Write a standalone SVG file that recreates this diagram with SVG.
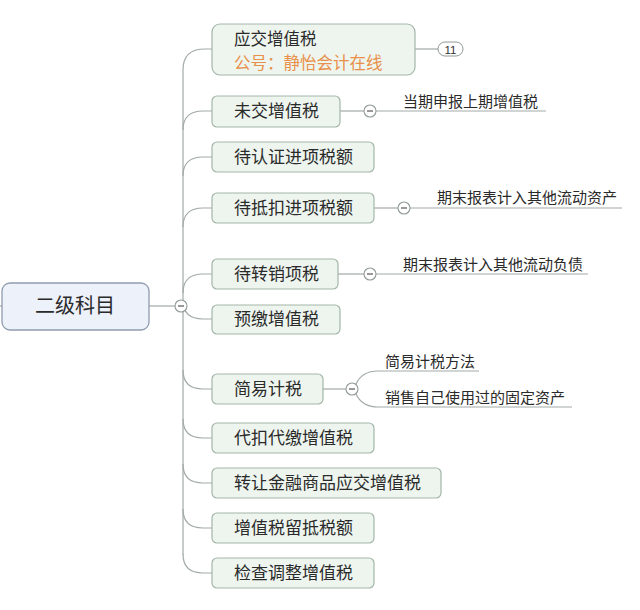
<svg xmlns="http://www.w3.org/2000/svg" width="640" height="610" viewBox="0 0 640 610">
<style>
.box{fill:#eef5ef;stroke:#a3b6a8;stroke-width:1.2}
.root{fill:#edf1f9;stroke:#8e9cae;stroke-width:1.3}
.t{font-family:"Noto Sans CJK SC","Noto Sans",sans-serif;font-size:17px;fill:#2a2a2a}
.lb{font-family:"Noto Sans CJK SC","Noto Sans",sans-serif;font-size:15px;fill:#2a2a2a}
.or{fill:#e8904a}
.ln{fill:none;stroke:#a2aaa6;stroke-width:1.2}
.tog{fill:#ffffff;stroke:#8f9a95;stroke-width:1.1}
.min{stroke:#555;stroke-width:1.2}
</style>
<rect width="640" height="610" fill="#ffffff"/>
<g id="connectors">
  <path class="ln" d="M0,306 H3"/>
  <path class="ln" d="M149,306 H175"/>
  <path class="ln" d="M183,70 V555"/>
  <path class="ln" d="M183,70 Q183,49 205,49 H212"/>
  <path class="ln" d="M183,130 Q183,111 203,111 H212"/>
  <path class="ln" d="M183,176 Q183,157 203,157 H212"/>
  <path class="ln" d="M183,227 Q183,208 203,208 H212"/>
  <path class="ln" d="M183,293 Q183,274 203,274 H212"/>
  <path class="ln" d="M183,300 Q183,319 203,319 H212"/>
  <path class="ln" d="M183,370 Q183,389 203,389 H212"/>
  <path class="ln" d="M183,419 Q183,438 203,438 H212"/>
  <path class="ln" d="M183,464 Q183,483 203,483 H212"/>
  <path class="ln" d="M183,509 Q183,528 203,528 H212"/>
  <path class="ln" d="M183,554 Q183,573 203,573 H212"/>
  <path class="ln" d="M415,49 H438"/>
  <path class="ln" d="M340,111 H364"/>
  <path class="ln" d="M376,111 H546"/>
  <path class="ln" d="M374,208 H398"/>
  <path class="ln" d="M410,208 H622"/>
  <path class="ln" d="M338,274 H364"/>
  <path class="ln" d="M376,274 H588"/>
  <path class="ln" d="M323,389 H346"/>
  <path class="ln" d="M356,384 Q362,371 378,371 H479"/>
  <path class="ln" d="M356,394 Q362,407 378,407 H572"/>
</g>
<g id="root">
  <rect class="root" x="2" y="283" width="147" height="47" rx="8"/>
  <text class="t" x="75" y="313" text-anchor="middle" style="font-size:20px">二级科目</text>
  <circle class="tog" cx="181" cy="306" r="6"/>
  <path class="min" d="M178,306 H184"/>
</g>
<g id="n1">
  <rect class="box" x="212" y="24" width="203" height="51" rx="8"/>
  <text class="t" x="234" y="44.5" style="font-size:16.5px">应交增值税</text>
  <text class="t or" x="234" y="68.5" style="font-size:16.5px">公号：静怡会计在线</text>
  <rect x="438" y="42" width="25" height="14" rx="7" fill="#fff" stroke="#8f9a95" stroke-width="1"/>
  <text x="450.5" y="53.5" text-anchor="middle" style="font-family:'Liberation Sans',sans-serif;font-size:11.5px;fill:#333">11</text>
</g>
<g id="n2">
  <rect class="box" x="212" y="96" width="128" height="31" rx="5"/>
  <text class="t" x="234" y="117">未交增值税</text>
  <circle class="tog" cx="370" cy="111" r="6"/>
  <path class="min" d="M367,111 H373"/>
  <text class="lb" x="403" y="107">当期申报上期增值税</text>
</g>
<g id="n3">
  <rect class="box" x="212" y="142" width="162" height="30" rx="5"/>
  <text class="t" x="234" y="163">待认证进项税额</text>
</g>
<g id="n4">
  <rect class="box" x="212" y="193" width="162" height="30" rx="5"/>
  <text class="t" x="234" y="214">待抵扣进项税额</text>
  <circle class="tog" cx="404" cy="208" r="6"/>
  <path class="min" d="M401,208 H407"/>
  <text class="lb" x="437" y="203">期末报表计入其他流动资产</text>
</g>
<g id="n5">
  <rect class="box" x="212" y="259" width="126" height="30" rx="5"/>
  <text class="t" x="234" y="280">待转销项税</text>
  <circle class="tog" cx="370" cy="274" r="6"/>
  <path class="min" d="M367,274 H373"/>
  <text class="lb" x="403" y="270">期末报表计入其他流动负债</text>
</g>
<g id="n6">
  <rect class="box" x="212" y="305" width="128" height="29" rx="5"/>
  <text class="t" x="234" y="325">预缴增值税</text>
</g>
<g id="n7">
  <rect class="box" x="212" y="374" width="111" height="30" rx="5"/>
  <text class="t" x="234" y="395">简易计税</text>
  <circle class="tog" cx="352" cy="389" r="6"/>
  <path class="min" d="M349,389 H355"/>
  <text class="lb" x="385" y="367">简易计税方法</text>
  <text class="lb" x="385" y="403">销售自己使用过的固定资产</text>
</g>
<g id="n8">
  <rect class="box" x="212" y="423" width="162" height="30" rx="5"/>
  <text class="t" x="234" y="444">代扣代缴增值税</text>
</g>
<g id="n9">
  <rect class="box" x="212" y="468" width="229" height="30" rx="5"/>
  <text class="t" x="234" y="489">转让金融商品应交增值税</text>
</g>
<g id="n10">
  <rect class="box" x="212" y="513" width="162" height="30" rx="5"/>
  <text class="t" x="234" y="534">增值税留抵税额</text>
</g>
<g id="n11">
  <rect class="box" x="212" y="558" width="162" height="30" rx="5"/>
  <text class="t" x="234" y="579">检查调整增值税</text>
</g>
</svg>
